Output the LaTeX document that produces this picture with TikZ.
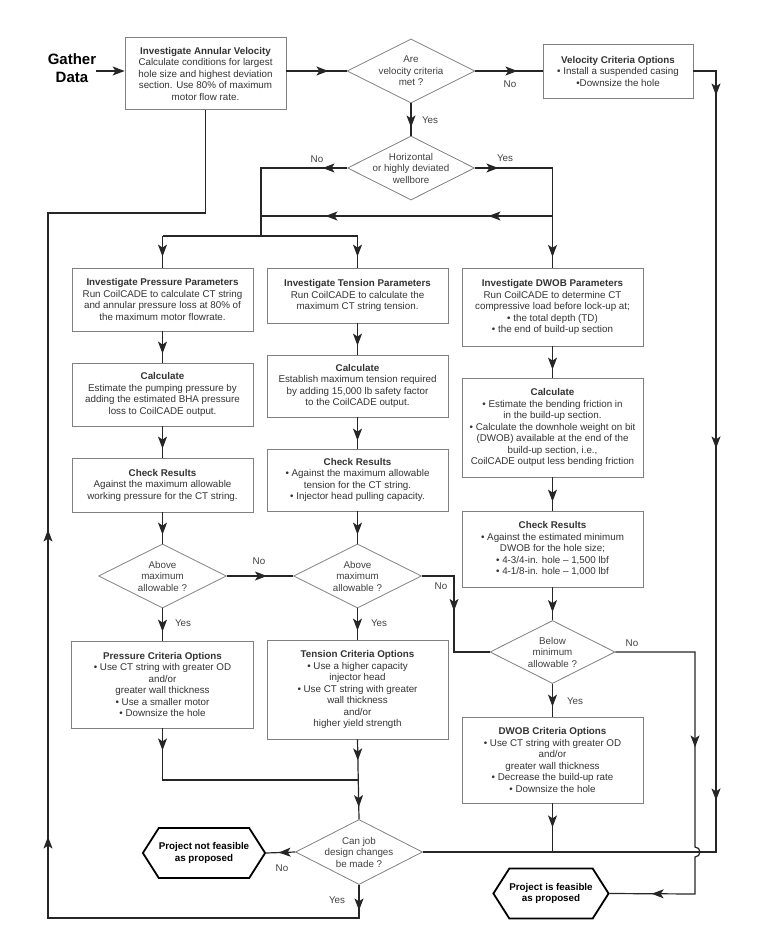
\documentclass[tikz,border=0pt]{standalone}
\usepackage{fontspec}
\setmainfont{Liberation Sans}
\usetikzlibrary{positioning}
\usetikzlibrary{shapes.geometric}
\usetikzlibrary{shapes.symbols}
\usetikzlibrary{decorations.markings}
\usetikzlibrary{arrows.meta}
\newcommand{\boxfont}{\fontsize{9.8}{11.5}\selectfont}
\tikzset{flowtip/.tip={Stealth[length=12pt,width=9pt,inset=3pt]}}
\tikzset{infobox/.style={rectangle, draw=black!50, line width=0.8pt, fill=white, text=black!80, align=center, font=\boxfont, inner sep=1pt, minimum width=181pt}}
\tikzset{decision/.style={diamond, aspect=2, draw=black!50, line width=0.8pt, text=black!75, align=center, font=\boxfont, inner sep=-12pt, minimum width=128pt, minimum height=64pt}}
\tikzset{terminal/.style={signal, signal to=east and west, signal pointer angle=115, draw=black, line width=1.8pt, align=center, font=\boxfont\bfseries, minimum width=113pt, minimum height=50pt, inner sep=0pt}}
\tikzset{flow/.style={draw=black!85, line width=1.2pt}}
\tikzset{lbl/.style={font=\boxfont, text=black!75, inner sep=0pt}}
\tikzset{->-/.style={decoration={markings, mark=at position #1 with {\arrow{flowtip}}}, postaction={decorate}}}
\tikzset{->>-/.style 2 args={decoration={markings, mark=at position #1 with {\arrow{flowtip}}, mark=at position #2 with {\arrow{flowtip}}}, postaction={decorate}}}
\tikzset{->>>-/.style n args={3}{decoration={markings, mark=at position #1 with {\arrow{flowtip}}, mark=at position #2 with {\arrow{flowtip}}, mark=at position #3 with {\arrow{flowtip}}}, postaction={decorate}}}

\begin{document}
\begin{tikzpicture}[x=1pt, y=-1pt]
    \useasboundingbox (0,0) rectangle (768,939);
    % top row
    \node [font=\fontsize{15}{18}\selectfont\bfseries, align=center, inner sep=0pt](gather) at (72,68){Gather\\Data};
    \node [infobox, minimum width=161pt, minimum height=72pt](velinv) at (205.5,73.5){\textbf{Investigate Annular Velocity}\\Calculate conditions for largest\\hole size and highest deviation\\section. Use 80\% of maximum\\motor flow rate.};
    \node [decision](velq) at (411,71){Are\\velocity criteria\\met ?};
    \node [infobox, minimum width=150pt, minimum height=54pt](velopt) at (618,71){\textbf{Velocity Criteria Options}\\• Install a suspended casing\\•Downsize the hole};
    \node [decision, minimum width=127pt](horq) at (411,168){Horizontal\\or highly deviated\\wellbore};
    % three columns
    \node [infobox, minimum height=63pt](presinv) at (162.5,299.5){\textbf{Investigate Pressure Parameters}\\Run CoilCADE to calculate CT string\\and annular pressure loss at 80\% of\\the maximum motor flowrate.};
    \node [infobox, minimum height=55pt](tensinv) at (357.5,295.5){\textbf{Investigate Tension Parameters}\\Run CoilCADE to calculate the\\maximum CT string tension.};
    \node [infobox, minimum height=78pt](dwobinv) at (552.5,307){\textbf{Investigate DWOB Parameters}\\Run CoilCADE to determine CT\\compressive load before lock-up at;\\• the total depth (TD)\\• the end of build-up section};
    \node [infobox, minimum height=63pt](prescalc) at (162.5,394.5){\textbf{Calculate}\\Estimate the pumping pressure by\\adding the estimated BHA pressure\\loss to CoilCADE output.};
    \node [infobox, minimum height=62pt](tenscalc) at (357.5,386){\textbf{Calculate}\\Establish maximum tension required\\by adding 15,000 lb safety factor\\to the CoilCADE output.};
    \node [infobox, minimum height=99pt](dwobcalc) at (552.5,427.5){\textbf{Calculate}\\• Estimate the bending friction in\\in the build-up section.\\• Calculate the downhole weight on bit\\(DWOB) available at the end of the\\build-up section, i.e.,\\CoilCADE output less bending friction};
    \node [infobox, minimum height=54pt](prescheck) at (162.5,485){\textbf{Check Results}\\Against the maximum allowable\\working pressure for the CT string.};
    \node [infobox, minimum height=62pt](tenscheck) at (357.5,480){\textbf{Check Results}\\• Against the maximum allowable\\tension for the CT string.\\• Injector head pulling capacity.};
    \node [infobox, minimum height=76pt](dwobcheck) at (552.5,549){\textbf{Check Results}\\• Against the estimated minimum\\DWOB for the hole size;\\• 4-3/4-in. hole – 1,500 lbf\\• 4-1/8-in. hole – 1,000 lbf};
    \node [decision](presq) at (162.5,576){Above\\maximum\\allowable ?};
    \node [decision](tensq) at (357.5,576){Above\\maximum\\allowable ?};
    \node [decision, minimum width=125pt, minimum height=63pt](dwobq) at (552.5,652){Below\\minimum\\allowable ?};
    \node [infobox, minimum width=182pt, minimum height=87pt](presopt) at (162.5,684.5){\textbf{Pressure Criteria Options}\\• Use CT string with greater OD\\and/or\\greater wall thickness\\• Use a smaller motor\\• Downsize the hole};
    \node [infobox, minimum height=99pt](tensopt) at (357.5,689.5){\textbf{Tension Criteria Options}\\• Use a higher capacity\\injector head\\• Use CT string with greater\\wall thickness\\and/or\\higher yield strength};
    \node [infobox, minimum height=86pt](dwobopt) at (552.5,760){\textbf{DWOB Criteria Options}\\• Use CT string with greater OD\\and/or\\greater wall thickness\\• Decrease the build-up rate\\• Downsize the hole};
    % bottom
    \node [decision, minimum width=127pt, minimum height=65pt](canq) at (359,852){Can job\\design changes\\be made ?};
    \node [terminal](notfeas) at (204,853){Project not feasible\\as proposed};
    \node [terminal](feas) at (551,893.5){Project is feasible\\as proposed};

    \coordinate (busP) at (162.5,236);
    \coordinate (busT) at (357.5,236);
    \coordinate (joinD) at (552.5,216);
    \coordinate (joinN) at (261,216);
    \coordinate (loopL) at (48,213);
    \coordinate (loopR) at (205.5,213);

    % labels
    \node [lbl](velno) at (510,84){No};
    \node [lbl](velyes) at (430,120){Yes};
    \node [lbl](horno) at (317,159){No};
    \node [lbl](horyes) at (505,158){Yes};
    \node [lbl](presno) at (259,561){No};
    \node [lbl](presyes) at (183,623){Yes};
    \node [lbl](tensno) at (441,586){No};
    \node [lbl](tensyes) at (379,623){Yes};
    \node [lbl](dwobno) at (632,643){No};
    \node [lbl](dwobyes) at (575,701){Yes};
    \node [lbl](canno) at (282,868){No};
    \node [lbl](canyes) at (337,900){Yes};

    % top connectors
    \draw[flow, -{flowtip}] (gather.east |- velq.west) -- (velinv.west |- velq.west);
    \draw[flow, ->-=42pt] (velinv.east |- velq.west) -- (velq.west);
    \draw[flow, ->-=42pt] (velq.east) -- (velopt.west);
    \draw[flow, ->>>-={47pt}{400pt}{752pt}] (velopt.east) -- (716,71) -- (716,852) -- (canq.east);
    \draw[flow, ->-=24pt] (velq.south) -- (horq.north);
    \draw[flow, ->-=24.5pt] (horq.west) -- (261,168) -- (busP -| joinN);
    \draw[flow, ->>-={23.5pt}{166.5pt}] (horq.east) -- (552.5,168) -- (dwobinv.north);
    \draw[flow, ->>-={64pt}{227pt}] (joinD) -- (joinN);
    \draw[flow, ->-=-11pt] (busP) -- (presinv.north);
    \draw[flow, ->-=-11pt] (busP) -- (busT) -- (tensinv.north);

    % columns
    \draw[flow, ->-=-9pt] (presinv) -- (prescalc);
    \draw[flow, ->-=-9pt] (prescalc) -- (prescheck);
    \draw[flow, ->-=-9pt] (prescheck) -- (presq);
    \draw[flow, ->-=-9pt] (presq) -- (presopt);
    \draw[flow, ->-=-9pt] (tensinv) -- (tenscalc);
    \draw[flow, ->-=-8pt] (tenscalc) -- (tenscheck);
    \draw[flow, ->-=-9pt] (tenscheck) -- (tensq);
    \draw[flow, ->-=-9pt] (tensq) -- (tensopt);
    \draw[flow, ->-=-8pt] (dwobinv) -- (dwobcalc);
    \draw[flow, ->-=-9pt] (dwobcalc) -- (dwobcheck);
    \draw[flow, ->-=-8pt] (dwobcheck) -- (dwobq);
    \draw[flow, ->-=-10pt] (dwobq) -- (dwobopt);
    \draw[flow, ->-=40pt] (presq.east) -- (tensq.west);
    \draw[flow, ->-=67pt] (tensq.east) -- (454,576) -- (454,652) -- (dwobq.west);
    \draw[flow, ->>-={175pt}{-42pt}] (dwobq.east) -- (695,652) -- (695,847) arc[start angle=90, end angle=-90, radius=5pt] -- (695,894) -- (feas.east);

    % bottom connectors
    \draw[flow, ->-=22pt] (presopt.south) -- (162.5,780) -- (357.5,780);
    \draw[flow, ->>-={21pt}{-12pt}] (tensopt.south) -- (canq.north);
    \draw[flow, ->-=24pt] (dwobopt.south) -- (552.5,852);
    \draw[flow, ->-=16.5pt] (canq.west) -- (notfeas.east);
    \draw[flow, ->>>-={25.5pt}{425.5pt}{732.5pt}] (canq.south) -- (359,918) -- (48,918) -- (loopL) -- (loopR) -- (velinv.south);
\end{tikzpicture}
\end{document}
